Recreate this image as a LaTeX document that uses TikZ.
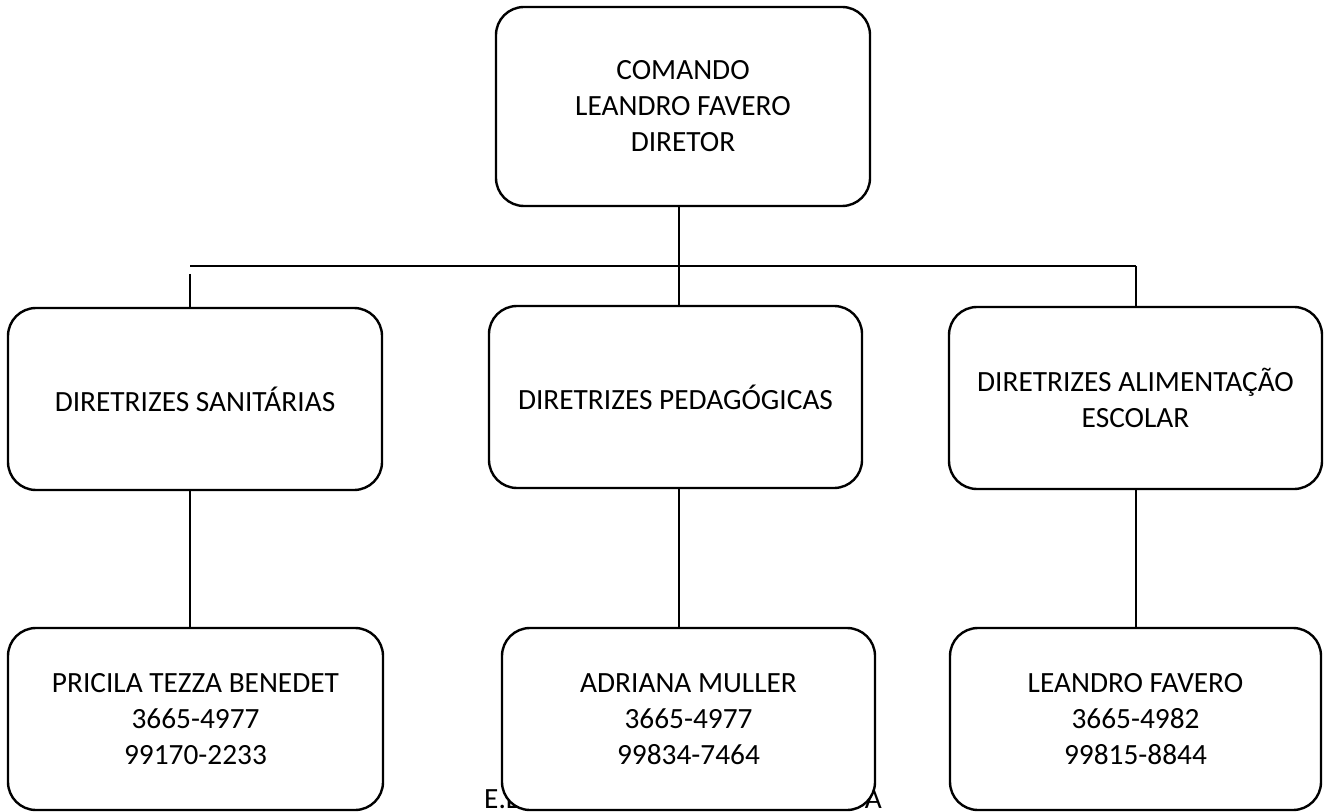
\documentclass[tikz,border=0pt]{standalone}
\usepackage{fontspec}
\setmainfont{Carlito}

\begin{document}
\begin{tikzpicture}[x=0.75pt,y=-0.75pt,line width=1.8pt,box node/.style={rectangle,rounded corners=21pt,draw,fill=white,align=center,inner sep=0pt,minimum height=136.5pt,font=\fontsize{22}{27}\selectfont},note/.style={inner sep=0pt,font=\fontsize{22}{27}\selectfont}]
            \useasboundingbox (0,0) rectangle (1326,812);
            % footer text, mostly hidden by box 6
            \node[note, anchor=base west] (8) at (483,808) {E.L};
            \node[note, anchor=base east] (9) at (883,808) {A};

            \node[box node, minimum width=280.5pt, minimum height=149.25pt] (1) at (683,106.5) {COMANDO\\LEANDRO FAVERO\\DIRETOR};
            \node[box node, minimum width=280.5pt] (2) at (195,399) {DIRETRIZES SANITÁRIAS};
            \node[box node, minimum width=279.75pt] (3) at (675.5,397) {DIRETRIZES PEDAGÓGICAS};
            \node[box node, minimum width=279.75pt] (4) at (1135.5,398) {DIRETRIZES ALIMENTAÇÃO\\ESCOLAR};
            \node[box node, minimum width=281.25pt] (5) at (195.5,719) {PRICILA TEZZA BENEDET\\3665-4977\\99170-2233};
            \node[box node, minimum width=279.75pt] (6) at (688.5,719) {ADRIANA MULLER\\3665-4977\\99834-7464};
            \node[box node, minimum width=278.25pt] (7) at (1135.5,719) {LEANDRO FAVERO\\3665-4982\\99815-8844};

            \coordinate (b1) at (190,266);
            \coordinate (b2) at (679,266);
            \coordinate (b3) at (1136,266);
            \coordinate (g1) at (190,274);

            \path
                (b1) edge (b3)
                (1.south -| b2) edge (3.north -| b2)
                (g1) edge (2.north -| g1)
                (b3) edge (4.north -| b3)
                (2.south -| b1) edge (5.north -| b1)
                (3.south -| b2) edge (6.north -| b2)
                (4.south -| b3) edge (7.north -| b3)
                ;
        \end{tikzpicture}
\end{document}
